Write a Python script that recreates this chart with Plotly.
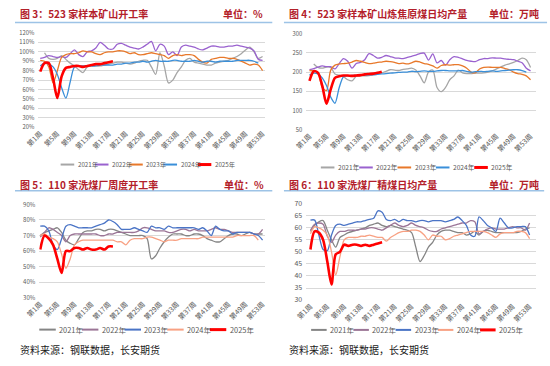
import plotly.graph_objects as go

W, H = 550, 366

# ---------------- categories ----------------
weeks = list(range(1, 54))
tick_weeks = [1, 5, 9, 13, 17, 21, 25, 29, 33, 37, 41, 45, 49, 53]
tick_labels = ['第1周', '第5周', '第9周', '第13周', '第17周', '第21周', '第25周',
               '第29周', '第33周', '第37周', '第41周', '第45周', '第49周', '第53周']
year_names = ['2021年', '2022年', '2023年', '2024年', '2025年']

# ---------------- 图3: 523家样本矿山开工率 (%) ----------------
mine_rate_2021 = [None, 99, 93, 92, 93, 96, 92, 88, 85, 81,
                  78, 84, 85, 85, 85, 86, 87, 88, 89, 89,
                  88, 87, 88, 90, 91, 91, 84, 76, 99, 85,
                  67, 70, 78, 84, 91, 93, 89, 88, 87, 86,
                  86, 88, 89, 90, 91, 93, 95, 98, 102, 105,
                  100, 93, 95]
mine_rate_2022 = [93, 94, 96, 95, 94, 95, 94, 98, 102, 97,
                  95, 100, 101, 104, 110, 107, 103, 103, 108, 109,
                  107, 105, 104, 103, 105, 108, 111, 101, 108, 106,
                  97, 100, 96, 105, 107, 106, 105, 103, 102, 104,
                  106, 106, 105, 105, 106, 106, 107, 106, 105, 104,
                  101, 92, 91]
mine_rate_2023 = [91, 90, 84, 67, 80, 94, 97, 98, 98, 99,
                  101, 100, 100, 98, 97, 99, 100, 100, 101, 101,
                  100, 98, 99, 97, 97, 98, 99, 98, 97, 96,
                  93, 96, 97, 96, 97, 97, 96, 92, 89, 88,
                  92, 93, 94, 94, 93, 93, 92, 90, 88, 86,
                  87, 86, 80]
mine_rate_2024 = [85, 88, 87, 84, 76, 62, 51, 68, 84, 85,
                  85, 85, 85, 85, 86, 86, 86, 86, 87, 87,
                  88, 88, 89, 89, 90, 89, 90, 91, 90, 90,
                  90, 91, 91, 90, 90, 90, 91, 90, 89, 90,
                  90, 89, 90, 90, 90, 90, 91, 91, 91, 91,
                  90, 88]
mine_rate_2025 = [79, 88, 88, 72, 51, 74, 83, 84, 85, 85,
                  84, 85, 86, 87, 87, 88, 89, 90]

# ---------------- 图4: 523家炼焦原煤日均产量 (万吨) ----------------
coal_out_2021 = [None, 221, 212, 210, 213, 212, 195, 192, 188, 180,
                 177, 189, 190, 190, 191, 193, 196, 198, 202, 206,
                 205, 204, 207, 208, 210, 205, 190, 172, 200, 205,
                 160, 149, 160, 180, 190, 205, 198, 196, 196, 197,
                 197, 198, 200, 203, 208, 213, 218, 221, 225, 230,
                 236, 232, 212]
coal_out_2022 = [206, 209, 213, 216, 214, 214, 208, 222, 235, 228,
                 210, 222, 225, 232, 248, 243, 236, 238, 243, 240,
                 237, 236, 235, 238, 241, 244, 248, 249, 231, 247,
                 224, 230, 218, 232, 240, 238, 234, 230, 228, 227,
                 232, 235, 235, 237, 236, 236, 234, 233, 232, 228,
                 224, 210, 203]
coal_out_2023 = [204, 203, 198, 160, 152, 205, 218, 221, 222, 223,
                 226, 230, 228, 225, 222, 223, 225, 226, 228, 227,
                 225, 222, 223, 221, 224, 228, 226, 222, 220, 216,
                 210, 217, 219, 218, 219, 219, 216, 210, 200, 198,
                 208, 212, 213, 212, 212, 212, 209, 206, 200, 196,
                 194, 190, 180]
coal_out_2024 = [192, 197, 195, 185, 165, 135, 119, 160, 188, 190,
                 191, 191, 192, 192, 193, 193, 194, 195, 196, 197,
                 198, 199, 200, 200, 202, 201, 202, 203, 202, 202,
                 203, 204, 204, 203, 203, 203, 204, 202, 200, 201,
                 202, 201, 202, 203, 202, 203, 204, 205, 206, 206,
                 204, 200]
coal_out_2025 = [177, 202, 198, 165, 118, 155, 185, 189, 191, 191,
                 190, 191, 192, 194, 195, 196, 198, 201]

# ---------------- 图5: 110家洗煤厂周度开工率 (%) ----------------
wash_rate_2021 = [70, 72, 73, 74, 75, 72, 67, 65, 64, 68,
                  72, 73, 73, 74, 74, 73, 74, 74, 73, 72,
                  71, 70, 70, 70, 70, 68, 55, 57, 62, 66,
                  69, 71, 71, 71, 70, 70, 71, 71, 70, 68,
                  67, 66, 66, 68, 70, 71, 71, 70, 71, 72,
                  71, 71, 71]
wash_rate_2022 = [69, 72, 75, 74, 72, 70, 66, 70, 71, 71,
                  71, 71, 71, 71, 70, 70, 71, 71, 72, 72,
                  72, 72, 72, 73, 75, 75, 74, 73, 73, 73,
                  72, 72, 73, 74, 74, 73, 74, 73, 73, 73,
                  74, 75, 74, 74, 73, 72, 72, 72, 72, 72,
                  71, 71, 74]
wash_rate_2023 = [76, 76, 73, 64, 61, 68, 76, 77, 76, 75,
                  75, 75, 75, 76, 77, 78, 80, 79, 77, 74,
                  74, 74, 75, 74, 73, 72, 76, 75, 75, 74,
                  76, 75, 75, 75, 75, 75, 75, 74, 75, 73,
                  70, 76, 74, 73, 73, 71, 72, 72, 72, 72,
                  71, 70, 67]
wash_rate_2024 = [70, 71, 69, 68, 66, 58, 49, 55, 64, 66,
                  67, 67, 67, 67, 67, 67, 67, 67, 66, 66,
                  64, 67, 68, 68, 68, 69, 69, 68, 67, 66,
                  67, 67, 67, 68, 68, 68, 68, 68, 69, 69,
                  69, 69, 69, 69, 69, 69, 70, 70, 70, 70,
                  70, 67]
wash_rate_2025 = [61, 70, 68, 64, 55, 46, 60, 60, 62, 62,
                  61, 62, 61, 61, 62, 61, 63, 63]

# ---------------- 图6: 110家洗煤厂精煤日均产量 (万吨) ----------------
clean_out_2021 = [58.5, 61, 62.5, 63, 59, 55, 52, 56, 57, 58,
                  58.5, 59, 59.5, 60, 61, 61.5, 62, 61, 60.5, 61,
                  60.5, 60, 59.5, 59, 58, 52, 46, 48.5, 52, 54,
                  57, 58.5, 59, 59, 58.5, 58, 58, 57, 57.5, 58.5,
                  57, 58.5, 59, 58.5, 58, 58, 58, 58, 58, 58,
                  58.5, 59.5, 60]
clean_out_2022 = [59, 61.5, 62, 61.5, 56.5, 54, 57, 58.5, 58.5, 59,
                  59, 59, 59.5, 59.5, 60, 60, 59.5, 59, 60, 61,
                  62, 61, 60.5, 61, 62, 61, 60.5, 60, 59, 58.5,
                  58.5, 59.5, 60, 60.5, 61, 61.5, 62, 62, 63, 62.5,
                  57.5, 58.5, 59.5, 60, 59.5, 59.5, 59.5, 60, 60.5, 60,
                  60, 59, 62]
clean_out_2023 = [63.2, 63.2, 57, 51, 50.5, 57, 61, 61.5, 61, 61.5,
                  62, 62.5, 62.5, 63, 63.5, 64, 67, 66.5, 63.5, 63,
                  63.5, 62.5, 63.5, 63, 63, 62.5, 63, 63, 62.5, 63,
                  63, 63, 62.5, 63, 63.5, 64.5, 63, 61, 57, 56.5,
                  64.5, 63, 61, 60, 58.5, 64, 62, 60, 60, 60.5,
                  60.5, 60.5, 57]
clean_out_2024 = [57.5, 60.5, 60, 59, 57, 50, 40.5, 48, 55, 56,
                  56, 56, 56.5, 56.5, 57, 56.5, 56, 56, 54.5, 56,
                  57, 58, 58.5, 58.5, 59, 59, 58.5, 57, 55, 57,
                  56.5, 56.5, 55, 55.5, 56.5, 57, 57.5, 58, 58.5, 58.5,
                  58.5, 58.5, 58, 57, 56, 57.5, 58, 58, 58, 58.5,
                  58.5, 58, 55.5]
clean_out_2025 = [51, 58.5, 58, 55, 46, 36.5, 49, 50, 53, 52.5,
                  53, 53, 52.5, 53, 52.5, 53, 53.5, 54]

colors_top = ['#a6a6a6', '#9a62cf', '#e8782a', '#3a8fd9', '#ff0000']
colors_bot = ['#858585', '#9b7596', '#4a74c6', '#f8a183', '#ff0000']

TITLE_RED = '#b3202a'
FONT = 'Noto Sans CJK SC'
TITLE_SIZE = 10


def pad(v):
    return list(v) + [None] * (len(weeks) - len(v))


panels = [
    dict(series=[mine_rate_2021, mine_rate_2022, mine_rate_2023, mine_rate_2024, mine_rate_2025],
         colors=colors_top, title='图 3：523 家样本矿山开工率', unit='单位：%',
         title_x=3, unit_x=258, title_y=8, line_y=17, line_x=(0, 265),
         xd=(24, 258), p1=26, p53=255, yd=(27.7, 124.7), yr=(20, 120), dtick=10, suffix='%',
         yfont=5.8, leg_x=47, leg_pitch=35.3, leg_y=163, leg_len=14, leg_font=6.2),
    dict(series=[coal_out_2021, coal_out_2022, coal_out_2023, coal_out_2024, coal_out_2025],
         colors=colors_top, title='图 4：523 家样本矿山炼焦原煤日均产量', unit='单位：万吨',
         title_x=280, unit_x=542, title_y=8, line_y=17, line_x=(277, 548),
         xd=(300, 537), p1=303.3, p53=531, yd=(28.3, 127.3), yr=(50, 300), dtick=50, suffix='',
         yfont=5.8, leg_x=315, leg_pitch=39.5, leg_y=166, leg_len=14, leg_font=6.6),
    dict(series=[wash_rate_2021, wash_rate_2022, wash_rate_2023, wash_rate_2024, wash_rate_2025],
         colors=colors_bot, title='图 5：110 家洗煤厂周度开工率', unit='单位：%',
         title_x=3, unit_x=259, title_y=183, line_y=190, line_x=(0, 265),
         xd=(25, 258), p1=26, p53=255, yd=(204, 300), yr=(30, 90), dtick=10, suffix='%',
         yfont=6, leg_x=25, leg_pitch=43.9, leg_y=332.7, leg_len=17, leg_font=7.4),
    dict(series=[clean_out_2021, clean_out_2022, clean_out_2023, clean_out_2024, clean_out_2025],
         colors=colors_bot, title='图 6：110 家洗煤厂精煤日均产量', unit='单位：万吨',
         title_x=280, unit_x=542, title_y=183, line_y=190, line_x=(277, 545),
         xd=(300, 537), p1=304.3, p53=530, yd=(203.3, 302.3), yr=(30, 70), dtick=5, suffix='',
         yfont=7, leg_x=305, leg_pitch=43.5, leg_y=333, leg_len=16, leg_font=7.4),
]

fig = go.Figure()
shapes = []
annotations = []


def px(x):
    return x / W


def py(y):
    return 1 - y / H


for i, p in enumerate(panels):
    n = '' if i == 0 else str(i + 1)
    xa, ya = 'x' + n, 'y' + n
    for s, c in zip(p['series'], p['colors']):
        is_red = c == '#ff0000'
        fig.add_trace(go.Scatter(
            x=weeks, y=pad(s), mode='lines', xaxis=xa, yaxis=ya,
            line=dict(color=c, width=2.6 if is_red else 1.3, shape='spline', smoothing=0.8),
            showlegend=False, hoverinfo='skip'))
    k = (p['p53'] - p['p1']) / 52.0
    xr = [1 - (p['p1'] - p['xd'][0]) / k, 53 + (p['xd'][1] - p['p53']) / k]
    fig.update_layout(**{
        'xaxis' + n: dict(domain=[px(p['xd'][0]), px(p['xd'][1])], range=xr, anchor=ya,
                          tickmode='array', tickvals=tick_weeks, ticktext=tick_labels,
                          tickangle=-45, showgrid=False, zeroline=False, showline=False,
                          ticks='', tickfont=dict(family=FONT, size=7, color='#595959'),
                          fixedrange=True),
        'yaxis' + n: dict(domain=[py(p['yd'][1]), py(p['yd'][0])], range=list(p['yr']), anchor=xa,
                          dtick=p['dtick'], tick0=p['yr'][0], ticksuffix=p['suffix'],
                          showgrid=True, gridcolor='#d9d9d9', gridwidth=1, zeroline=False,
                          showline=False, ticks='', ticklabelstandoff=3,
                          tickfont=dict(family=FONT, size=p['yfont'], color='#595959'),
                          fixedrange=True),
    })
    # title, unit, separator line
    annotations.append(dict(x=px(p['title_x']), y=py(p['title_y']), xref='paper', yref='paper',
                            text='<b>' + p['title'] + '</b>', showarrow=False, xanchor='left',
                            yanchor='middle', font=dict(family=FONT, size=TITLE_SIZE, color=TITLE_RED)))
    annotations.append(dict(x=px(p['unit_x']), y=py(p['title_y']), xref='paper', yref='paper',
                            text='<b>' + p['unit'] + '</b>', showarrow=False, xanchor='right',
                            yanchor='middle', font=dict(family=FONT, size=TITLE_SIZE, color=TITLE_RED)))
    shapes.append(dict(type='line', xref='paper', yref='paper',
                       x0=px(p['line_x'][0]), x1=px(p['line_x'][1]),
                       y0=py(p['line_y']), y1=py(p['line_y']),
                       line=dict(color='#9dc3e6', width=1.5)))
    # legend
    for j, (name, c) in enumerate(zip(year_names, p['colors'])):
        x0 = p['leg_x'] + j * p['leg_pitch']
        shapes.append(dict(type='line', xref='paper', yref='paper',
                           x0=px(x0), x1=px(x0 + p['leg_len']),
                           y0=py(p['leg_y']), y1=py(p['leg_y']),
                           line=dict(color=c, width=3 if c == '#ff0000' else 2)))
        annotations.append(dict(x=px(x0 + p['leg_len'] + 1.5), y=py(p['leg_y']), xref='paper',
                                yref='paper', text=name, showarrow=False, xanchor='left',
                                yanchor='middle',
                                font=dict(family=FONT, size=p['leg_font'], color='#595959')))

# source notes
for sx in (3, 280):
    annotations.append(dict(x=px(sx), y=py(353), xref='paper', yref='paper',
                            text='资料来源：钢联数据，长安期货', showarrow=False, xanchor='left',
                            yanchor='middle', font=dict(family=FONT, size=10, color='#1a1a1a')))

fig.update_layout(width=W, height=H, autosize=False,
                  margin=dict(l=0, r=0, t=0, b=0),
                  paper_bgcolor='white', plot_bgcolor='white',
                  showlegend=False, shapes=shapes, annotations=annotations,
                  font=dict(family=FONT))

fig.write_html('out.html', config={'displayModeBar': False},
               post_script="document.body.style.margin='0';document.body.style.padding='0';")
